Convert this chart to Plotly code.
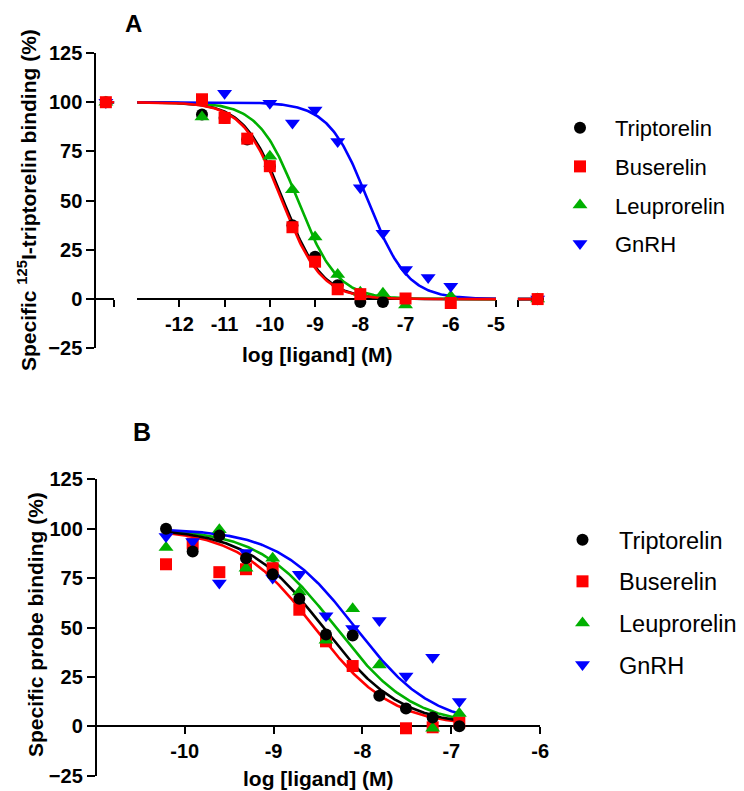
import numpy as np
import plotly.graph_objects as go

W, H = 744, 791
FONT = "Liberation Sans, Arial, sans-serif"

# ---------------- data ----------------
series = ["Triptorelin", "Buserelin", "Leuprorelin", "GnRH"]
colors = ["#000000", "#FF0000", "#00B000", "#0000FF"]
symbols = ["circle", "square", "triangle-up", "triangle-down"]

# Panel A: log concentration (M) and % specific binding
logA = [-11.5, -11, -10.5, -10, -9.5, -9, -8.5, -8, -7.5, -7, -6.5, -6]
A_triptorelin = [93.8, 92, 81, 67.5, 37.5, 21.5, 7, -1.5, -1.5, None, None, None]
A_buserelin = [101.5, 92, 81.5, 67.5, 36.5, 19, 5, 2.5, None, 0.3, None, -2]
A_leuprorelin = [92.5, None, None, 72.5, 55.5, 31.5, 12.5, 3.5, 3, -3, None, 1.5]
A_gnrh = [None, 104.5, None, 99.5, 89.5, 96, 80, 56.5, 33.5, 15, 11, 6.5]
A_values = [A_triptorelin, A_buserelin, A_leuprorelin, A_gnrh]
# controls: no ligand (left axis segment) and saturating ligand (right segment)
A_ctrl_x_low, A_ctrl_x_high = -14.1, -4.0
A_ctrl_low = [100, 100, 100, 100]
A_ctrl_high = [0, 0, 0, 0]
# one-site fit parameters (logIC50, Hill slope)
A_logIC50 = [-9.70, -9.73, -9.38, -7.83]
A_hill = [1.0, 1.0, 1.0, 1.0]

# Panel B
logB = [-10.21, -9.91, -9.61, -9.31, -9.01, -8.71, -8.41, -8.11, -7.81, -7.51, -7.21, -6.91]
B_triptorelin = [100, 88.5, 96.5, 85, 77, 64.5, 46.5, 46, 15.5, 9, 4.5, 0]
B_buserelin = [82, 92.5, 78, 79.5, 80, 59, 43, 30.5, None, -1, -0.5, 2]
B_leuprorelin = [90.5, None, 99.5, 80, 85, 68, 43.5, 59.5, 31, None, -1, 6.5]
B_gnrh = [96, 93.5, 72.5, 88, 75, 77, 56, 49.5, 53.5, 25.5, 35, 12.5]
B_values = [B_triptorelin, B_buserelin, B_leuprorelin, B_gnrh]
B_logIC50 = [-8.44, -8.54, -8.30, -8.08]
B_hill = [1.0, 1.0, 1.0, 1.0]

yticks = [-25, 0, 25, 50, 75, 100, 125]
A_xticks = [-12, -11, -10, -9, -8, -7, -6, -5]
B_xticks = [-10, -9, -8, -7, -6]

A_ytitle = "Specific <sup>125</sup>I-triptorelin binding (%)"
B_ytitle = "Specific probe binding (%)"
xtitle = "log [ligand] (M)"


def fit(x, logic50, hill, top=100.0, bottom=0.0):
    x = np.asarray(x, dtype=float)
    return bottom + (top - bottom) / (1 + 10 ** (hill * (x - logic50)))


def fx(p):  # page pixel -> paper fraction
    return p / W


def fy(p):
    return 1 - p / H


# ---------------- geometry ----------------
A_xleft = [-14.35, -13.9]
A_xmain = [-12.93, -5.0]
A_xright = [-4.44, -3.86]
A_ydom = [fy(348.3), fy(53.0)]
B_xrange = [-11, -6]
B_ydom = [fy(775.7), fy(479.3)]
yrange = [-25, 125]
EPS = 0.004  # keep segment-end ticks just inside their ranges


def zero_pos(dom):
    return dom[0] + (0 - yrange[0]) / (yrange[1] - yrange[0]) * (dom[1] - dom[0])


A_x0 = zero_pos(A_ydom)
B_x0 = zero_pos(B_ydom)

fig = go.Figure()

orderA = [0, 2, 3, 1]
orderB = [1, 2, 3, 0]

# ---- Panel A curves ----
for i in orderA:
    for xa, rng in (("x", [A_ctrl_x_low, A_xleft[1]]), ("x2", [-13.0, A_xmain[1]]),
                    ("x3", [A_xright[0], A_ctrl_x_high])):
        xs = np.linspace(rng[0], rng[1], 300)
        fig.add_trace(go.Scatter(x=xs, y=fit(xs, A_logIC50[i], A_hill[i]), mode="lines",
                                 line=dict(color=colors[i], width=2.6), xaxis=xa, yaxis="y",
                                 showlegend=False, hoverinfo="skip"))
# ---- Panel A markers ----
for i in orderA:
    mk = dict(symbol=symbols[i], color=colors[i], size=13 if "triangle" in symbols[i] else 12,
              line=dict(width=0))
    fig.add_trace(go.Scatter(x=logA, y=A_values[i], mode="markers", marker=mk, name=series[i],
                             xaxis="x2", yaxis="y", legend="legend", legendrank=i + 1,
                             legendgroup="A" + series[i], cliponaxis=False))
    fig.add_trace(go.Scatter(x=[A_ctrl_x_low], y=[A_ctrl_low[i]], mode="markers", marker=mk,
                             xaxis="x", yaxis="y", showlegend=False, cliponaxis=False))
    fig.add_trace(go.Scatter(x=[A_ctrl_x_high], y=[A_ctrl_high[i]], mode="markers", marker=mk,
                             xaxis="x3", yaxis="y", showlegend=False, cliponaxis=False))

# ---- Panel B ----
for i in orderB:
    xs = np.linspace(logB[0], logB[-1], 300)
    fig.add_trace(go.Scatter(x=xs, y=fit(xs, B_logIC50[i], B_hill[i]), mode="lines",
                             line=dict(color=colors[i], width=2.6), xaxis="x7", yaxis="y2",
                             showlegend=False, hoverinfo="skip"))
for i in orderB:
    mk = dict(symbol=symbols[i], color=colors[i], size=13 if "triangle" in symbols[i] else 12,
              line=dict(width=0))
    fig.add_trace(go.Scatter(x=logB, y=B_values[i], mode="markers", marker=mk, name=series[i],
                             xaxis="x7", yaxis="y2", legend="legend2", legendrank=i + 1,
                             legendgroup="B" + series[i], cliponaxis=False))

# invisible traces that register the overlay (segment-end tick) axes
for xa, rng in (("x4", A_xleft), ("x5", A_xmain), ("x6", A_xright)):
    fig.add_trace(go.Scatter(x=rng, y=[None, None], mode="lines", xaxis=xa, yaxis="y",
                             showlegend=False, hoverinfo="skip"))

tickfont = dict(family=FONT, size=20, color="black", weight="bold")
titlefont = dict(family=FONT, size=21, color="black", weight="bold")

base_x = dict(showgrid=False, zeroline=False, showline=True, linecolor="black", linewidth=2,
              ticks="outside", ticklen=7, tickwidth=2, tickcolor="black", tickfont=tickfont,
              tickmode="array", anchor="free", layer="below traces", fixedrange=True,
              automargin=False)
over_x = dict(showgrid=False, zeroline=False, showline=False, ticks="inside", ticklen=7,
              tickwidth=2, tickcolor="black", showticklabels=False, tickmode="array",
              anchor="free", fixedrange=True, automargin=False)
base_y = dict(showgrid=False, zeroline=False, showline=True, linecolor="black", linewidth=2,
              ticks="outside", ticklen=8, tickwidth=2, tickcolor="black", tickfont=tickfont,
              tickmode="array", tickvals=yticks, range=yrange, anchor="free",
              layer="below traces", fixedrange=True, automargin=False)

left_end = [A_xleft[1] - EPS]
main_ends = [A_xmain[0] + EPS, A_xmain[1] - EPS]
right_start = [A_xright[0] + EPS]


def label(text, px, py, size, angle=0):
    return dict(text=text, x=fx(px), y=fy(py), xref="paper", yref="paper", showarrow=False,
                xanchor="center", yanchor="middle", textangle=angle,
                font=dict(family=FONT, size=size, color="black", weight="bold"))


fig.update_layout(
    width=W, height=H, margin=dict(l=0, r=0, t=0, b=0, autoexpand=False),
    paper_bgcolor="white", plot_bgcolor="rgba(0,0,0,0)",
    font=dict(family=FONT, color="black"),
    xaxis=dict(base_x, domain=[fx(95.3), fx(114.3)], range=A_xleft, position=A_x0,
               tickvals=left_end, showticklabels=False),
    xaxis2=dict(base_x, domain=[fx(137.3), fx(496)], range=A_xmain, position=A_x0,
                tickvals=A_xticks, ticktext=[str(t) for t in A_xticks]),
    xaxis3=dict(base_x, domain=[fx(517.7), fx(544)], range=A_xright, position=A_x0,
                tickvals=right_start, showticklabels=False),
    xaxis4=dict(over_x, overlaying="x", range=A_xleft, position=A_x0, tickvals=left_end),
    xaxis5=dict(over_x, overlaying="x2", range=A_xmain, position=A_x0, tickvals=main_ends),
    xaxis6=dict(over_x, overlaying="x3", range=A_xright, position=A_x0, tickvals=right_start),
    yaxis=dict(base_y, domain=A_ydom, position=fx(95.3)),
    xaxis7=dict(base_x, domain=[fx(95.8), fx(540.2)], range=B_xrange, position=B_x0,
                tickvals=B_xticks, ticktext=[str(t) for t in B_xticks]),
    yaxis2=dict(base_y, domain=B_ydom, position=fx(95.8)),
    legend=dict(x=fx(545), y=fy(107), xanchor="left", yanchor="top",
                font=dict(family=FONT, size=22, color="black"), tracegroupgap=7, itemwidth=60,
                bgcolor="rgba(0,0,0,0)", borderwidth=0, itemclick=False, itemdoubleclick=False),
    legend2=dict(x=fx(546), y=fy(518), xanchor="left", yanchor="top",
                 font=dict(family=FONT, size=23.5, color="black"), tracegroupgap=8, itemwidth=63,
                 bgcolor="rgba(0,0,0,0)", borderwidth=0, itemclick=False, itemdoubleclick=False),
    annotations=[
        label("A", 133, 24, 24),
        label("B", 142, 432, 25),
        label(A_ytitle, 27, 200, 21, -90),
        label(B_ytitle, 35, 625, 21, -90),
        label(xtitle, 316.5, 355, 21),
        label(xtitle, 318, 778, 21),
    ],
)

# the page body's default 8px margin would push the 744x791 figure out of the window
fig.write_html("out.html", config={"displayModeBar": False},
               post_script="document.body.style.margin='0';"
                           "document.documentElement.style.overflow='hidden';")
